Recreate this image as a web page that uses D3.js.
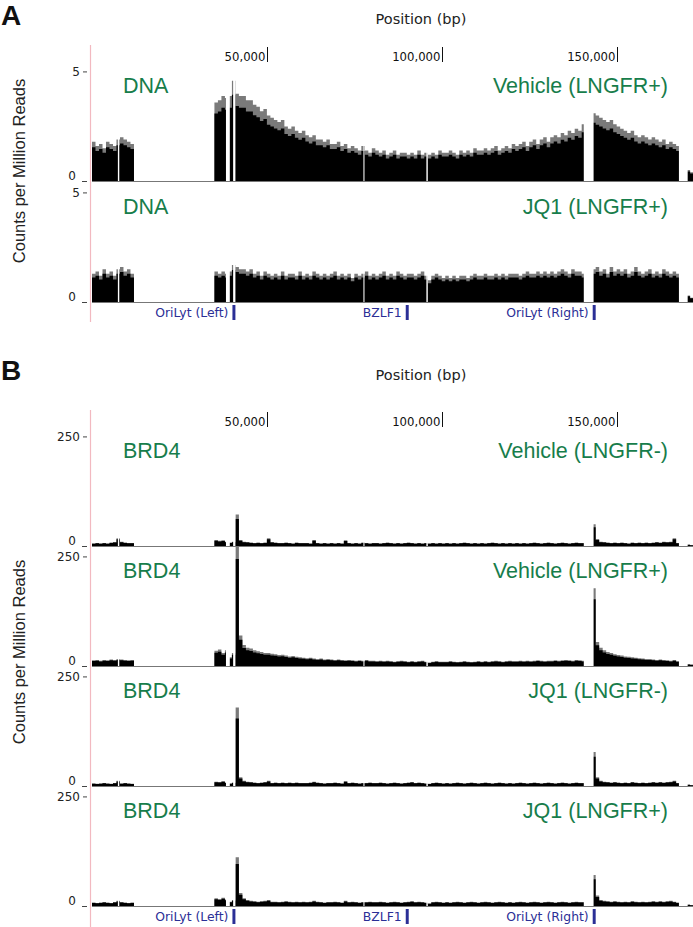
<!DOCTYPE html>
<html><head><meta charset="utf-8">
<script src="https://cdn.jsdelivr.net/npm/d3@7"></script>
<style>body{margin:0;background:#fff}svg{display:block}</style></head>
<body><svg id="c" width="693" height="927"></svg>
<script>
// ---------------- DATA ----------------
const binSizeBp = 1000;
const genomeLengthBp = 171823;
const positionTicks = [50000, 100000, 150000];
const positionTickLabels = ["50,000", "100,000", "150,000"];

// Panel A: DNA, counts per million reads, 1 kb bins (0..171 kb)
const dnaVehicleLNGFRpos = [
1.8,1.6,1.7,1.5,1.8,1.7,1.6,1.9, 2.0,1.9,1.8,1.7,
0,0,0,0,0,0,0,0,0,0,0,0,0,0,0,0,0,0,0,0,0,0,0,
3.6,3.7,3.9,3.8, 3.9,4.6,
4.0,3.9,3.9,3.7,3.7,3.5,3.4,3.2,3.3,3.0,
2.9,2.8,2.7,2.8,2.5,2.4,2.5,2.3,2.2,2.3,
2.1,2.0,2.1,1.9,1.9,1.8,1.9,1.7,1.7,1.8,
1.6,1.7,1.5,1.6,1.5,1.4,1.6,1.4,1.3,1.5,
1.4,1.3,1.4,1.2,1.3,1.4,1.2,1.3,1.3,1.2,
1.3,1.2,1.4,1.2,1.3,1.2,1.3,1.2,1.4,1.3,
1.3,1.4,1.3,1.2,1.4,1.3,1.4,1.3,1.5,1.4,
1.4,1.5,1.4,1.5,1.6,1.4,1.5,1.6,1.5,1.7,
1.6,1.7,1.8,1.6,1.8,1.9,1.7,1.9,2.0,1.8,
2.0,2.1,2.0,2.2,2.1,2.3,2.2,2.4,2.3,2.6,
0,0,
3.1,3.0,2.9,2.8,2.7,2.8,2.6,2.5,
2.4,2.3,2.2,2.3,2.1,2.0,2.1,2.0,1.9,2.0,
1.9,1.8,1.9,1.7,1.8,1.7,1.6,
0,0,
0.5,0.4];

const dnaJQ1LNGFRpos = [
1.3,1.4,1.2,1.5,1.3,1.4,1.2,1.5, 1.6,1.4,1.5,1.3,
0,0,0,0,0,0,0,0,0,0,0,0,0,0,0,0,0,0,0,0,0,0,0,
1.4,1.3,1.4,1.3, 1.4,1.7,
1.6,1.5,1.5,1.4,1.5,1.3,1.4,1.2,1.4,1.3,
1.2,1.3,1.2,1.4,1.2,1.3,1.3,1.2,1.4,1.2,
1.3,1.2,1.4,1.3,1.2,1.3,1.2,1.3,1.4,1.2,
1.3,1.2,1.3,1.1,1.3,1.2,1.3,1.4,1.2,1.3,
1.2,1.3,1.4,1.2,1.3,1.2,1.4,1.3,1.2,1.3,
1.3,1.2,1.3,1.4,1.2,1.0,1.2,1.3,1.2,1.1,
1.2,1.1,1.2,1.1,1.2,1.2,1.1,1.2,1.3,1.2,
1.2,1.3,1.2,1.2,1.3,1.2,1.3,1.2,1.3,1.3,
1.3,1.2,1.3,1.4,1.3,1.3,1.4,1.3,1.4,1.3,
1.4,1.3,1.4,1.5,1.4,1.3,1.5,1.4,1.4,1.3,
0,0,
1.5,1.6,1.4,1.5,1.3,1.6,1.4,1.5,
1.4,1.5,1.3,1.4,1.6,1.4,1.3,1.4,1.5,1.3,
1.4,1.3,1.5,1.4,1.3,1.4,1.3,
0,0,
0.3,0.2];

// Panel B: BRD4 ChIP, counts per million reads, 1 kb bins
const brd4VehicleLNGFRneg = [
6,7,6,7,6,8,9,18,10,8,7,7,
0,0,0,0,0,0,0,0,0,0,0,0,0,0,0,0,0,0,0,0,0,0,0,
14,12,13,10, 8,10,
72,14,10,9,8,
7,8,7,8,18,9,8,7,7,8,7,6,8,7,7,
7,6,14,7,6,7,6,7,6,7,6,13,7,6,7,6,8,7,6,7,
7,6,7,8,7,6,7,6,7,8,7,6,7,6,7,6,7,6,7,6,
7,6,7,6,7,8,7,6,7,6,7,6,7,8,7,6,7,6,7,6,
7,6,7,6,7,8,7,6,7,8,7,6,7,8,7,6,7,8,7,7,
0,0,
50,16,10,9,
8,7,8,7,8,7,6,8,7,8,7,8,7,8,9,8,10,9,10,18,7,
0,0,
3,2];

const brd4VehicleLNGFRpos = [
13,14,12,14,13,15,14,16,15,14,13,14,
0,0,0,0,0,0,0,0,0,0,0,0,0,0,0,0,0,0,0,0,0,0,0,
35,38,30,36, 20,30,
285,70,48,42,40,36,34,32,30,30,
28,27,25,26,24,22,23,21,20,19,
18,19,17,16,17,15,16,15,14,15,
14,13,14,13,12,13,12,14,12,12,
11,12,11,12,11,10,11,12,11,10,
11,10,11,12,10,8,10,11,10,10,
10,11,10,9,10,11,10,9,10,11,
10,11,10,11,12,11,10,11,12,11,
11,12,11,12,11,12,13,12,11,12,
12,13,12,13,14,13,12,14,13,12,
0,0,
178,55,42,36,32,30,27,25,
24,22,21,20,19,18,17,16,16,15,
14,15,14,13,12,14,11,
0,0,
4,3];

const brd4JQ1LNGFRneg = [
6,5,6,7,6,5,7,12,6,7,6,5,
0,0,0,0,0,0,0,0,0,0,0,0,0,0,0,0,0,0,0,0,0,0,0,
10,9,11,8, 6,8,
180,20,12,10,9,
8,7,8,9,12,7,8,7,8,7,8,7,8,7,7,
7,8,10,8,7,6,7,7,8,7,6,11,7,8,7,6,7,7,8,7,
7,8,7,6,7,8,7,6,7,8,9,7,8,7,6,5,7,8,7,6,
7,6,7,8,7,6,7,8,7,6,7,8,7,6,7,8,7,6,7,6,
7,8,7,6,7,8,7,6,7,8,7,6,7,8,7,6,7,8,7,7,
0,0,
78,20,12,10,
9,8,9,8,7,8,7,9,8,7,8,7,8,9,8,9,8,9,10,12,7,
0,0,
3,2];

const brd4JQ1LNGFRpos = [
8,7,8,9,8,7,9,12,9,8,7,8,
0,0,0,0,0,0,0,0,0,0,0,0,0,0,0,0,0,0,0,0,0,0,0,
18,16,19,15, 10,14,
112,30,18,14,12,
11,10,11,12,14,10,10,9,10,11,10,9,10,9,10,
9,10,12,10,9,8,9,9,10,9,8,12,9,10,9,8,9,9,10,9,
9,10,9,8,9,10,9,8,9,10,11,9,10,9,8,6,9,10,9,8,
9,8,9,10,9,8,9,10,9,8,9,10,9,8,9,10,9,8,9,8,
9,10,9,8,9,10,9,8,9,10,9,8,9,10,9,8,9,10,9,9,
0,0,
71,24,14,12,
11,10,11,10,9,10,9,11,10,9,10,9,10,11,10,11,10,11,12,10,8,
0,0,
3,2];

// unmappable (no-data) intervals, bp
const gapStarts = [7400, 38300, 40350, 77600, 95600, 140600, 167800];
const gapEnds   = [7800, 39400, 41000, 77900, 96000, 143400, 170300];

// annotated features, bp
const geneNames  = ["OriLyt (Left)", "BZLF1", "OriLyt (Right)"];
const geneStarts = [40150, 89700, 143150];
const geneEnds   = [41000, 90550, 144000];

const panelLetters = ["A", "B"];
const leftLabelsA  = ["DNA", "DNA"];
const rightLabelsA = ["Vehicle (LNGFR+)", "JQ1 (LNGFR+)"];
const leftLabelsB  = ["BRD4", "BRD4", "BRD4", "BRD4"];
const rightLabelsB = ["Vehicle (LNGFR-)", "Vehicle (LNGFR+)", "JQ1 (LNGFR-)", "JQ1 (LNGFR+)"];
const yTopTickA = 5, yMaxA = 5.5;
const yTopTickB = 250, yMaxB = 275;

// ---------------- DRAWING ----------------
const svg = d3.select("#c");
const W = 693;
const GREEN = "#177d4b", BLUE = "#2b2f96";
const SANS = "'Liberation Sans', Arial, Helvetica, sans-serif";
const SMALL = "'DejaVu Sans', sans-serif";
const x = d3.scaleLinear().domain([0, genomeLengthBp]).range([92, 693]);
const TRACK_H = 120;

const panels = [
  {letter: panelLetters[0], letterY: 25, titleY: 24, tickTop: 47, tickBot: 62, tickTextY: 61,
   pinkTop: 45, pinkBot: 322, annotY: 305, ylabelY: 171, yMax: yMaxA, yTop: yTopTickA,
   tracks: [
     {values: dnaVehicleLNGFRpos, base: 181, left: leftLabelsA[0], right: rightLabelsA[0]},
     {values: dnaJQ1LNGFRpos,     base: 302, left: leftLabelsA[1], right: rightLabelsA[1]}]},
  {letter: panelLetters[1], letterY: 380, titleY: 380, tickTop: 412, tickBot: 427, tickTextY: 426,
   pinkTop: 410, pinkBot: 927, annotY: 909, ylabelY: 652, yMax: yMaxB, yTop: yTopTickB,
   tracks: [
     {values: brd4VehicleLNGFRneg, base: 546, left: leftLabelsB[0], right: rightLabelsB[0]},
     {values: brd4VehicleLNGFRpos, base: 666, left: leftLabelsB[1], right: rightLabelsB[1]},
     {values: brd4JQ1LNGFRneg,     base: 786, left: leftLabelsB[2], right: rightLabelsB[2]},
     {values: brd4JQ1LNGFRpos,     base: 906, left: leftLabelsB[3], right: rightLabelsB[3]}]}
];

const defs = svg.append("defs");
let clipId = 0;

panels.forEach(p => {
  svg.append("text").attr("x", 1).attr("y", p.letterY).text(p.letter)
    .attr("font-family", SANS).attr("font-weight", "bold").attr("font-size", 28).attr("fill", "#111");
  svg.append("text").attr("x", 421).attr("y", p.titleY).attr("text-anchor", "middle")
    .text("Position (bp)").attr("font-family", SMALL).attr("font-size", 14.5).attr("fill", "#222");
  positionTicks.forEach((t, i) => {
    const tx = Math.round(x(t)) + 0.5;
    svg.append("line").attr("x1", tx).attr("x2", tx).attr("y1", p.tickTop).attr("y2", p.tickBot)
      .attr("stroke", "#111").attr("stroke-width", 1);
    svg.append("text").attr("x", tx - 2).attr("y", p.tickTextY).attr("text-anchor", "end")
      .text(positionTickLabels[i]).attr("font-family", SMALL).attr("font-size", 11.7).attr("fill", "#111");
  });
  svg.append("line").attr("x1", 90.5).attr("x2", 90.5).attr("y1", p.pinkTop).attr("y2", p.pinkBot)
    .attr("stroke", "#f2b9c0").attr("stroke-width", 1.2);
  svg.append("text").attr("transform", `translate(25,${p.ylabelY}) rotate(-90)`)
    .attr("text-anchor", "middle").text("Counts per Million Reads")
    .attr("font-family", SANS).attr("font-size", 16.5).attr("fill", "#222");

  p.tracks.forEach(tr => {
    const top = tr.base - TRACK_H;
    const y = d3.scaleLinear().domain([0, p.yMax]).range([tr.base, top]);
    const id = "clip" + (clipId++);
    defs.append("clipPath").attr("id", id).append("rect")
      .attr("x", x(0)).attr("y", top + 1).attr("width", W - x(0)).attr("height", TRACK_H - 1);
    const g = svg.append("g").attr("clip-path", `url(#${id})`);
    const pts = tr.values.map((v, i) => [i * binSizeBp, v]);
    pts.push([genomeLengthBp, tr.values[tr.values.length - 1]]);
    const areaMax = d3.area().curve(d3.curveStepAfter)
      .x(d => x(d[0])).y0(tr.base).y1(d => y(d[1]));
    const areaMean = d3.area().curve(d3.curveStepAfter)
      .x(d => x(d[0])).y0(tr.base).y1(d => y(d[1] * 0.86));
    g.append("path").attr("d", areaMax(pts)).attr("fill", "#7a7a7a");
    g.append("path").attr("d", areaMean(pts)).attr("fill", "#000");
    gapStarts.forEach((s, i) => {
      g.append("rect").attr("x", x(s)).attr("width", x(gapEnds[i]) - x(s))
        .attr("y", top).attr("height", TRACK_H).attr("fill", "#fff");
    });
    svg.append("line").attr("x1", x(0)).attr("x2", W).attr("y1", tr.base + 0.5).attr("y2", tr.base + 0.5)
      .attr("stroke", "#777").attr("stroke-width", 1);
    const yt = y(p.yTop);
    svg.append("line").attr("x1", 83).attr("x2", 87).attr("y1", yt).attr("y2", yt).attr("stroke", "#444");
    svg.append("text").attr("x", 80).attr("y", yt + 4).attr("text-anchor", "end").text(p.yTop)
      .attr("font-family", SMALL).attr("font-size", 12).attr("fill", "#222");
    svg.append("line").attr("x1", 82).attr("x2", 87).attr("y1", y(0) + 0.5).attr("y2", y(0) + 0.5).attr("stroke", "#444");
    svg.append("text").attr("x", 76).attr("y", y(0) - 1).attr("text-anchor", "end").text(0)
      .attr("font-family", SMALL).attr("font-size", 12).attr("fill", "#222");
    svg.append("text").attr("x", 123).attr("y", tr.base - 88).text(tr.left)
      .attr("font-family", SANS).attr("font-size", 21.5).attr("fill", GREEN);
    svg.append("text").attr("x", 668).attr("y", tr.base - 88).attr("text-anchor", "end").text(tr.right)
      .attr("font-family", SANS).attr("font-size", 21.5).attr("fill", GREEN);
  });

  geneNames.forEach((n, i) => {
    svg.append("rect").attr("x", x(geneStarts[i])).attr("width", x(geneEnds[i]) - x(geneStarts[i]))
      .attr("y", p.annotY).attr("height", 15).attr("fill", BLUE);
    svg.append("text").attr("x", x(geneStarts[i]) - 4).attr("y", p.annotY + 12).attr("text-anchor", "end")
      .text(n).attr("font-family", SMALL).attr("font-size", 12.4).attr("fill", BLUE);
  });
});
</script>
</body></html>
